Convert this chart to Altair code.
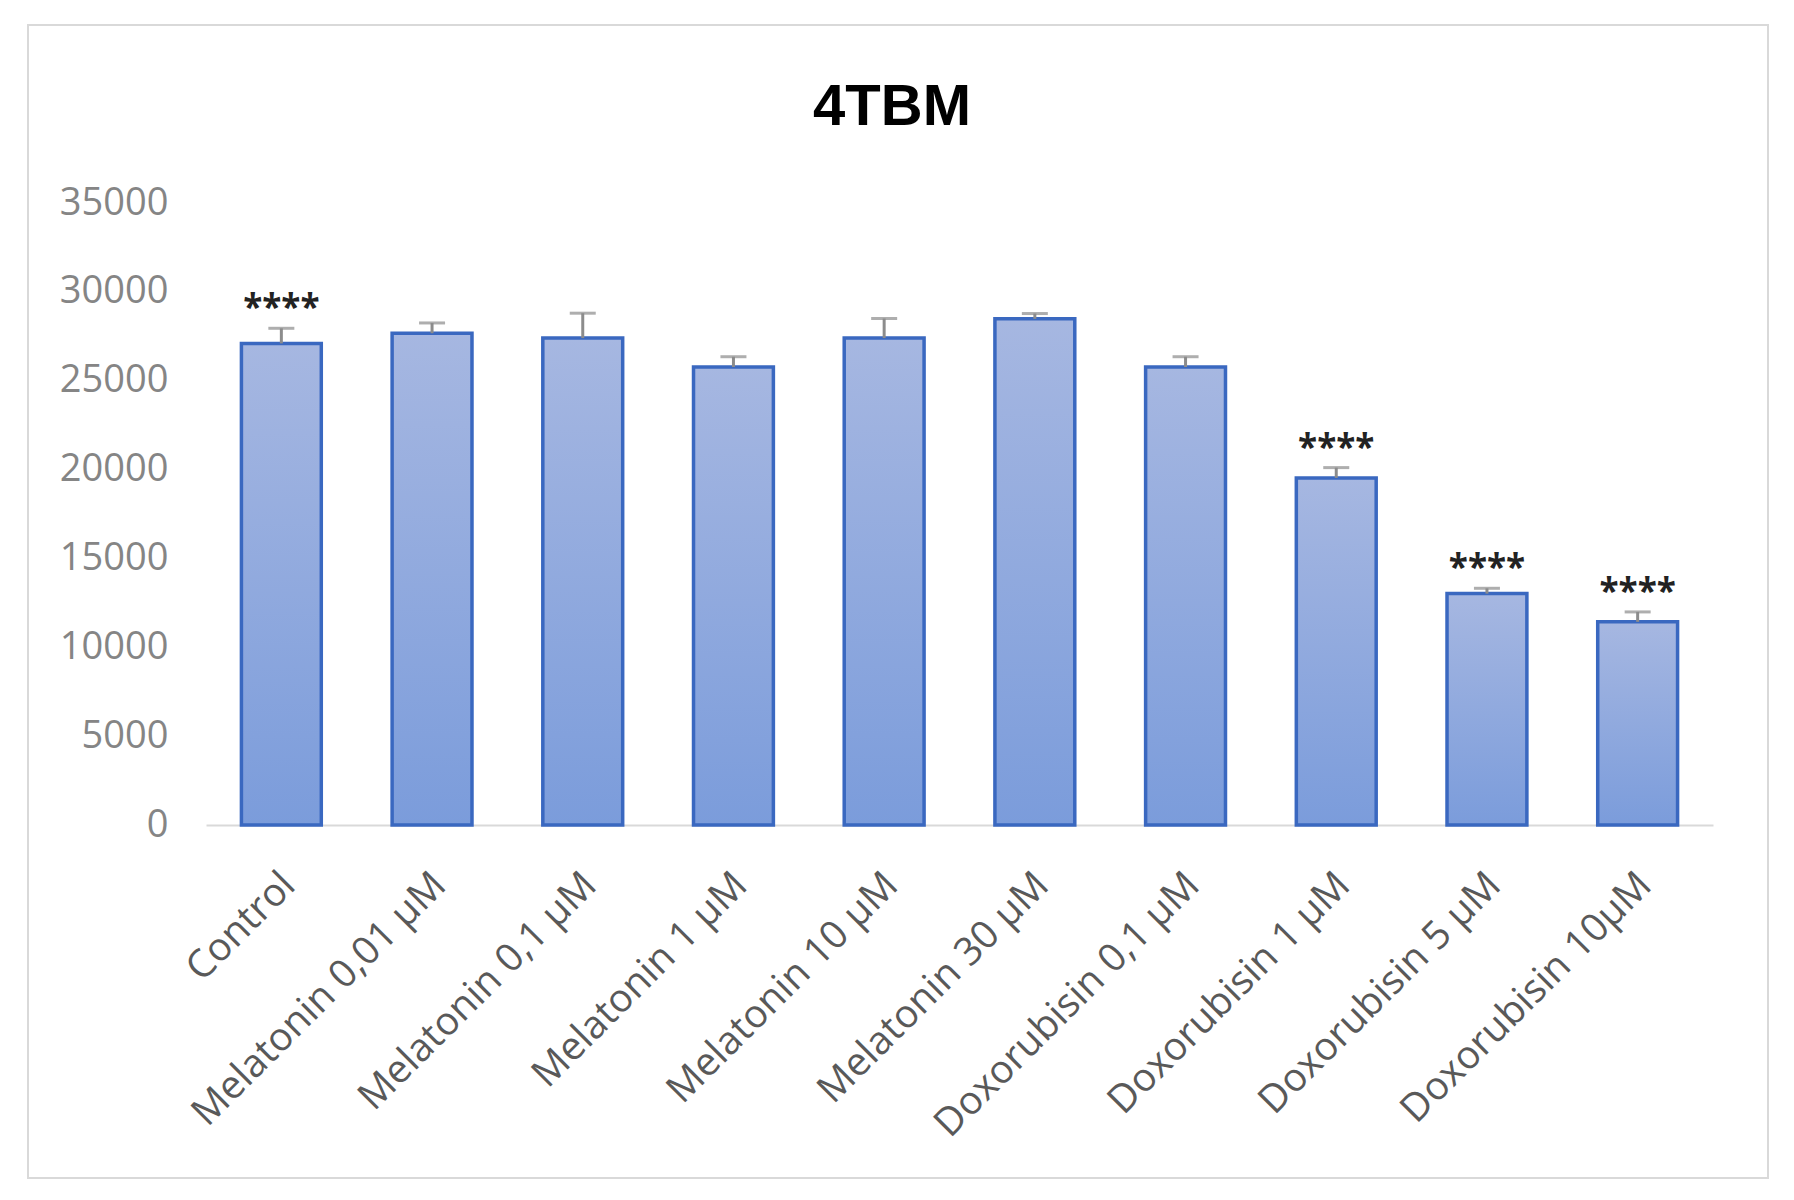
import altair as alt
import pandas as pd

categories = [
    "Control",
    "Melatonin 0,01 μM",
    "Melatonin 0,1 μM",
    "Melatonin 1 μM",
    "Melatonin 10 μM",
    "Melatonin 30 μM",
    "Doxorubisin  0,1 μM",
    "Doxorubisin  1 μM",
    "Doxorubisin  5 μM",
    "Doxorubisin  10μM",
]
means = [27100, 27670, 27400, 25770, 27400, 28480, 25770, 19530, 13020, 11430]
errors = [850, 580, 1400, 580, 1100, 300, 580, 580, 300, 560]
stars = ["****", "", "", "", "", "", "", "****", "****", "****"]
y_ticks = [0, 5000, 10000, 15000, 20000, 25000, 30000, 35000]
title_text = ["4TBM"]

df = pd.DataFrame({
    "cat": categories,
    "mean": means,
    "err": errors,
    "star": stars,
})
df["top"] = df["mean"] + df["err"]

x_enc = alt.X(
    "cat:N",
    sort=categories,
    scale=alt.Scale(paddingInner=0.47, paddingOuter=0.235),
    axis=alt.Axis(
        title=None,
        labelAngle=-45,
        labelFont="Open Sans",
        labelFontSize=39,
        labelColor="#595959",
        labelPadding=40,
        labelOffset=-6,
        ticks=False,
        domainColor="#d9d9d9",
        domainWidth=2,
        labelLimit=0,
    ),
)

y_scale = alt.Scale(domain=[0, 35000], nice=False)

base = alt.Chart(df)

gradient = alt.Gradient(
    gradient="linear",
    stops=[
        alt.GradientStop(color="#a6b7e1", offset=0),
        alt.GradientStop(color="#7b9cdb", offset=1),
    ],
    x1=0, x2=0, y1=0, y2=1,
)

bars = base.mark_bar(fill=gradient, stroke="#3a68c0", strokeWidth=3.5).encode(
    x=x_enc,
    y=alt.Y(
        "mean:Q",
        scale=y_scale,
        axis=alt.Axis(
            title=None,
            values=y_ticks,
            format="d",
            labelFont="Open Sans",
            labelFontSize=38,
            labelColor="#858585",
            labelPadding=38,
            ticks=False,
            domain=False,
            grid=False,
        ),
    ),
)

err_rule = base.mark_rule(color="#8c8c8c", strokeWidth=3).encode(
    x=alt.X("cat:N", sort=categories),
    y=alt.Y("mean:Q", scale=y_scale),
    y2="top:Q",
)

err_cap = base.mark_tick(color="#8c8c8c", size=26, thickness=3, orient="horizontal").encode(
    x=alt.X("cat:N", sort=categories),
    y=alt.Y("top:Q", scale=y_scale),
)

star_text = base.mark_text(
    font="Open Sans", fontSize=35, fontWeight="bold", color="#222222",
    baseline="alphabetic", dy=-9
).encode(
    x=alt.X("cat:N", sort=categories),
    y=alt.Y("top:Q", scale=y_scale),
    text="star:N",
)

frame = alt.Chart(pd.DataFrame({"a": [0]})).mark_rect(
    fill="transparent", stroke="#d9d9d9", strokeWidth=2
).encode(
    x=alt.value(-178), x2=alt.value(1562), y=alt.value(-178), y2=alt.value(975)
)

title = alt.Chart(pd.DataFrame({"t": title_text})).mark_text(
    font="Liberation Sans", fontSize=58, fontWeight="bold", color="#000000",
    align="center", baseline="alphabetic"
).encode(
    x=alt.value(686), y=alt.value(-78), text="t:N"
)

chart = alt.layer(frame, bars, err_rule, err_cap, star_text, title).properties(
    width=1507,
    height=622,
    background="white",
    padding={"left": 198, "top": 195, "right": 73, "bottom": 360},
    autosize=alt.AutoSizeParams(type="none"),
).configure_view(strokeWidth=0, stroke="transparent")

chart.save("out.html", embed_options={"renderer": "svg", "actions": False})
